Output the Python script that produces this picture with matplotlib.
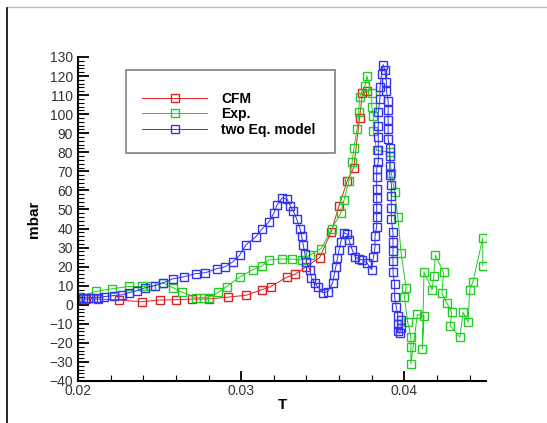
import numpy as np
import matplotlib
matplotlib.use("Agg")
import matplotlib.pyplot as plt
from matplotlib.lines import Line2D

plt.rcParams["font.family"] = ["Liberation Sans", "DejaVu Sans"]

# CFM (red)
cfm_t = [0.0200, 0.0205, 0.0212, 0.0225, 0.0239, 0.0250, 0.0260, 0.0270, 0.0280,
         0.0292, 0.0303, 0.0313, 0.0318, 0.0328, 0.0333, 0.0340, 0.0348, 0.0355,
         0.0360, 0.0365, 0.0369, 0.03725, 0.03743, 0.0377]
cfm_v = [3, 3, 3, 2.5, 1.6, 2.5, 2.6, 3, 3,
         4, 5, 8, 9.5, 14.5, 16, 20, 24.7, 38,
         52, 65, 72, 98, 111, 112]

# Exp. (green)
exp_t = [0.0200, 0.0211, 0.0221, 0.0231, 0.0239, 0.0245, 0.0252, 0.0258, 0.0264,
         0.0272, 0.0277, 0.0280, 0.0286, 0.0291, 0.0299, 0.0307, 0.0313, 0.0317,
         0.0325, 0.0331, 0.0337, 0.0342, 0.0349, 0.03555, 0.0361, 0.0363, 0.0366,
         0.0368, 0.0369, 0.0371, 0.0372, 0.03725, 0.0376, 0.0377, 0.0380, 0.0380,
         0.0381, 0.0381, 0.0383, 0.0391, 0.0392, 0.0394, 0.0396, 0.0398, 0.0401,
         0.0400, 0.0402, 0.0404, 0.0404, 0.0404, 0.0408, 0.0412, 0.0411, 0.0412,
         0.0417, 0.0418, 0.0419, 0.0424, 0.0423, 0.0426, 0.0429, 0.0428, 0.0434,
         0.0436, 0.0439, 0.0440, 0.0442, 0.0448, 0.0448]
exp_v = [4, 7, 8.4, 9.6, 9.6, 9.6, 11.5, 9, 6.5,
         3.7, 3.7, 3.7, 6.5, 9.5, 14.5, 18.4, 20.5, 23.6,
         24, 24, 23.6, 26, 29.4, 40, 48, 55, 65,
         75, 82, 92, 101, 109, 115, 120, 111, 104,
         99, 91, 81, 80, 69, 59, 46, 27, 9,
         4, -9, -17, -22, -31, -5, -6, -23, 17,
         8, 15, 26, 17, 6, 1, -4, -11, -17,
         -4, -9, 8, 12, 35, 20.5]

# two Eq. model (blue)
two_t = [0.0200, 0.0203, 0.0206, 0.0209, 0.0212, 0.0216, 0.0222, 0.0227, 0.0231,
         0.0236, 0.0241, 0.0247, 0.0252, 0.0258, 0.0265, 0.0272, 0.0278, 0.0285,
         0.0290, 0.0295, 0.0299, 0.0303, 0.0309, 0.0313, 0.0317, 0.0320, 0.0322,
         0.0325, 0.0328, 0.0330, 0.0332, 0.0334, 0.0336, 0.0337, 0.0338, 0.0339,
         0.0340, 0.0342, 0.0343, 0.0345, 0.0347, 0.0350, 0.0353, 0.0356, 0.0357,
         0.0358, 0.0359, 0.0360, 0.0361, 0.0363, 0.0365, 0.0366, 0.0368, 0.0370,
         0.0372, 0.0374, 0.0377, 0.0380, 0.0381, 0.0382, 0.0382, 0.0383, 0.0383,
         0.0383, 0.0383, 0.0383, 0.0383, 0.0383, 0.0384, 0.0384, 0.0384, 0.0384,
         0.0384, 0.0385, 0.0385, 0.0386, 0.0387, 0.0388, 0.0389, 0.0389, 0.0390,
         0.0390, 0.0390, 0.0390, 0.0390, 0.0391, 0.0391, 0.0391, 0.0391, 0.0392,
         0.0392, 0.0392, 0.0392, 0.0393, 0.0393, 0.0393, 0.0393, 0.0393, 0.0394,
         0.0394, 0.0395, 0.0396, 0.0396, 0.0396, 0.0397, 0.0398, 0.0398]
two_v = [3.7, 3.7, 3.7, 3.7, 3.7, 4.3, 4.8, 5.2, 6.3,
         7.3, 8.9, 10, 11.5, 13.6, 14.7, 16.3, 16.8, 18.9,
         19.9, 22.6, 26, 31.5, 35.7, 40, 43.5, 48, 52.5,
         56, 55.6, 52, 49, 45, 40, 36, 31.5, 26.8,
         22.6, 18.4, 14.2, 11.5, 9.4, 6.3, 6.8, 11.5, 15.7,
         20, 24.6, 28.9, 33, 37.8, 37, 34, 28.9, 25,
         24, 23.6, 22, 18.4, 25, 30, 36, 41, 46,
         51, 56, 61, 67, 71, 75, 81, 88, 94,
         101, 108, 114, 121, 126, 123, 117, 112, 107,
         102, 97, 92, 87, 82, 78, 73, 68, 63,
         57, 51, 45, 38, 33, 28, 23, 17, 11,
         4, -1, -6, -10, -14, -15, -12, -8]

series = [
    (cfm_t, cfm_v, "#dd2222", "CFM"),
    (exp_t, exp_v, "#22cc22", "Exp."),
    (two_t, two_v, "#3333ee", "two Eq. model"),
]

fig = plt.figure(figsize=(5.47, 4.23), dpi=100)
ax = fig.add_axes([78 / 547, 1 - 381 / 423, (486 - 78) / 547, (381 - 57) / 423])

for t, v, c, lbl in series:
    ax.plot(t, v, color=c, lw=0.7, marker="s", ms=6.3, mfc="none", mec=c,
            mew=1.0, label=lbl)

ax.set_xlim(0.02, 0.045)
ax.set_ylim(-40, 130)
ax.set_xticks([0.02, 0.03, 0.04])
ax.set_xticklabels(["0.02", "0.03", "0.04"])
ax.set_xticks(np.arange(0.02, 0.0451, 0.002), minor=True)
ax.set_yticks(np.arange(-40, 131, 10))
ax.set_yticks(np.arange(-40, 131, 2), minor=True)
ax.tick_params(which="major", direction="in", length=8, width=1.3,
               labelsize=10, labelcolor="#333333")
ax.tick_params(which="minor", direction="in", length=4, width=0.8)
ax.tick_params(axis="x", which="major", length=7, pad=2)
for s in ("top", "right"):
    ax.spines[s].set_visible(False)
for s in ("left", "bottom"):
    ax.spines[s].set_linewidth(1.5)

ax.set_xlabel("T", fontsize=11, fontweight="bold", labelpad=0)
ax.set_ylabel("mbar", fontsize=11, fontweight="bold", labelpad=6)

leg = ax.legend(loc="upper left",
                bbox_to_anchor=((126 - 78) / 408, 1 - (70 - 57) / 324, 209 / 408, 0.0),
                mode="expand", prop={"size": 10, "weight": "bold"},
                numpoints=1, handlelength=4.7, handletextpad=1.0,
                labelspacing=0.12, borderpad=1.15, borderaxespad=0,
                fancybox=False, framealpha=1, title=" ", title_fontsize=3)
leg.get_frame().set_edgecolor("#808080")
leg.get_frame().set_linewidth(1.2)

fig.add_artist(Line2D([7 / 547, 1], [1 - 7 / 423, 1 - 7 / 423], color="#bbbbbb", lw=1))
fig.add_artist(Line2D([7 / 547, 7 / 547], [0, 1 - 8 / 423], color="black", lw=1.2))

fig.savefig("out.png", dpi=100)
